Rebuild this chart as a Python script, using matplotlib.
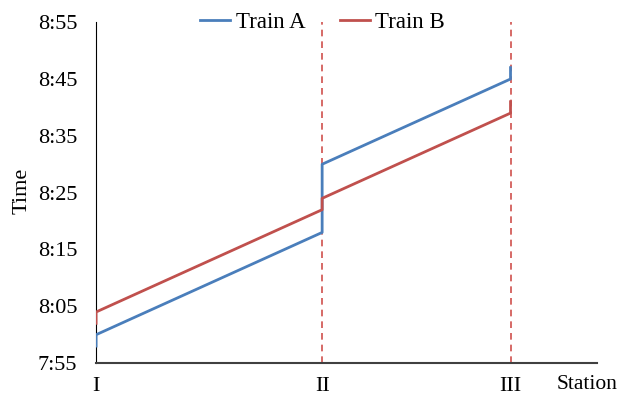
import matplotlib.pyplot as plt

plt.rcParams['font.family'] = ['Liberation Serif', 'DejaVu Serif']
plt.rcParams['font.size'] = 16

# station positions along the line (km) and names
station_pos = [0, 12, 22]
station_names = ['I', 'II', 'III']

# arrival / departure times at each station
train_a_times = ['7:58', '8:00', '8:18', '8:30', '8:45', '8:47']
train_b_times = ['8:02', '8:04', '8:22', '8:24', '8:39', '8:41']
time_ticks = ['7:55', '8:05', '8:15', '8:25', '8:35', '8:45', '8:55']


def to_min(s):
    h, m = s.split(':')
    return int(h) * 60 + int(m)


def path(times):
    xs, ys = [], []
    for i, p in enumerate(station_pos):
        xs += [p, p]
        ys += [to_min(times[2 * i]), to_min(times[2 * i + 1])]
    return xs, ys


fig = plt.figure(figsize=(6.24, 3.96), dpi=100)
ax = fig.add_axes([0.154, 0.083, 0.803, 0.861])

for p in station_pos[1:]:
    ax.axvline(p, color='#d0504d', lw=1.2, ls=(0, (4, 3)), zorder=1)

xa, ya = path(train_a_times)
xb, yb = path(train_b_times)
ax.plot(xa, ya, color='#4a7ebb', lw=2, label='Train A', zorder=3)
ax.plot(xb, yb, color='#c0504d', lw=2, label='Train B', zorder=3)

ax.set_xlim(0, 26.6)
ax.set_ylim(to_min('7:55'), to_min('8:55'))
ax.set_yticks([to_min(t) for t in time_ticks])
ax.set_yticklabels(time_ticks)
ax.set_xticks(station_pos)
ax.set_xticklabels(station_names)
ax.tick_params(length=0, pad=10)
ax.tick_params(axis='y', pad=13.5)

for s in ['top', 'right']:
    ax.spines[s].set_visible(False)
ax.spines['left'].set_color('black')
ax.spines['bottom'].set_color('#404040')
ax.spines['bottom'].set_linewidth(1.5)

fig.text(22 / 624, 0.518, 'Time', rotation=90, ha='center', va='center')
fig.text(0.99, 0.028, 'Station', ha='right', va='center', fontsize=15.5)

fig.legend(loc='center', bbox_to_anchor=(0.517, 0.944), ncol=2, frameon=False,
           fontsize=16.5, handlelength=1.3, handletextpad=0.25,
           columnspacing=1.5)

fig.savefig('out.png', dpi=100)
